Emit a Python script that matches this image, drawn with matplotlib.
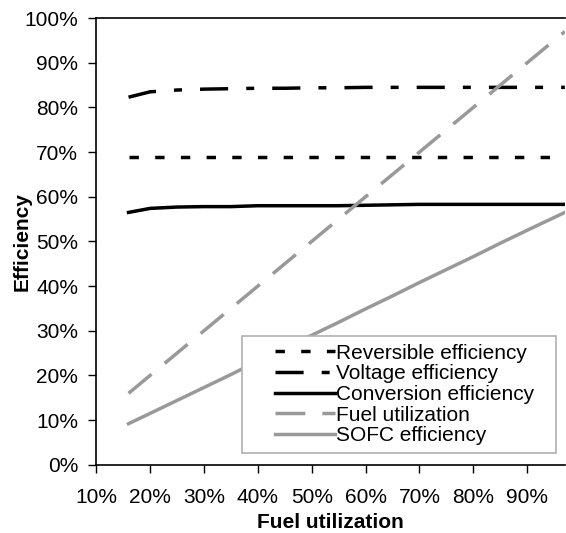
import matplotlib.pyplot as plt
from matplotlib.ticker import FuncFormatter
from matplotlib.lines import Line2D
from matplotlib.legend_handler import HandlerLine2D

plt.rcParams['font.family'] = ['Liberation Sans', 'DejaVu Sans']

# fuel utilization (%) at which each curve was sampled
fuel_util = [16, 20, 25, 30, 35, 40, 45, 50, 55, 60, 65, 70, 75, 80, 85, 90, 97]

reversible = [69.0] * len(fuel_util)
voltage = [82.3, 83.5, 83.9, 84.1, 84.2, 84.3, 84.3, 84.4, 84.4, 84.5, 84.5, 84.5, 84.5, 84.5, 84.5, 84.5, 84.5]
conversion = [56.5, 57.4, 57.7, 57.8, 57.8, 58.0, 58.0, 58.0, 58.0, 58.1, 58.2, 58.3, 58.3, 58.3, 58.3, 58.3, 58.3]
utilization = list(fuel_util)
sofc = [9.2, 11.5, 14.4, 17.3, 20.2, 23.2, 26.1, 29.0, 31.9, 34.9, 37.8, 40.8, 43.7, 46.6, 49.6, 52.5, 56.5]

fig = plt.figure(figsize=(5.66, 5.33), dpi=100)
ax = fig.add_axes([0.170, 0.128, 0.828, 0.838])

lw = 2.5
gray = '#999999'
ax.plot(fuel_util, reversible, color='black', lw=lw, dashes=(2.7, 4.7),
        dash_capstyle='butt', label='Reversible efficiency')
ax.plot(fuel_util, voltage, color='black', lw=lw, dashes=(8.1, 5.2, 2.3, 5.2),
        dash_capstyle='butt', label='Voltage efficiency')
ax.plot(fuel_util, conversion, color='black', lw=lw, label='Conversion efficiency')
ax.plot(fuel_util, utilization, color=gray, lw=lw, dashes=(8.6, 4.9),
        dash_capstyle='butt', label='Fuel utilization')
ax.plot(fuel_util, sofc, color=gray, lw=lw, label='SOFC efficiency')

ax.set_xlim(10, 97)
ax.set_ylim(0, 100)
ax.set_xticks(range(10, 100, 10))
ax.set_yticks(range(0, 101, 10))
pct = FuncFormatter(lambda v, p: '%d%%' % v)
ax.xaxis.set_major_formatter(pct)
ax.yaxis.set_major_formatter(pct)
ax.tick_params(labelsize=15, length=6, width=1, direction='out', pad=7)
ax.tick_params(axis='x', pad=11)
ax.spines['right'].set_visible(False)
for s in ['left', 'bottom', 'top']:
    ax.spines[s].set_linewidth(1.2)

ax.set_xlabel('Fuel utilization', fontsize=15, fontweight='bold', labelpad=4)
ax.set_ylabel('Efficiency', fontsize=15, fontweight='bold', labelpad=-5)

leg = ax.legend(loc='lower left', bbox_to_anchor=(0.311, 0.027, 0.67, 0.26),
                mode='expand', fontsize=15, handlelength=4.1, handletextpad=0.05,
                labelspacing=0.08, borderpad=0.35, borderaxespad=0,
                fancybox=False, framealpha=1,
                handler_map={Line2D: HandlerLine2D(xpad=1.25)})
leg.get_frame().set_edgecolor('#b0b0b0')
leg.get_frame().set_linewidth(1.2)

fig.savefig('out.png', dpi=100)
